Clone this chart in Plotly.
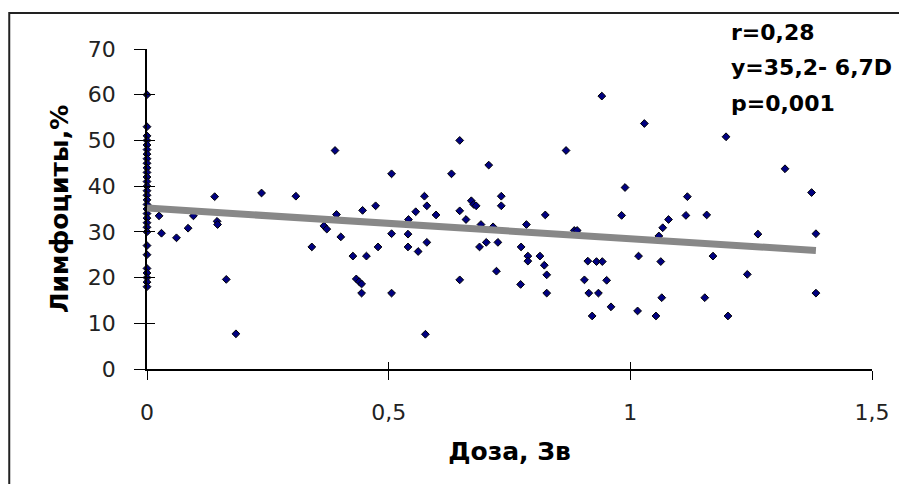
import plotly.graph_objects as go

# Dose (Sv) and lymphocytes (%)
dose = [0.0] * 31 + [
    0.025, 0.030, 0.061, 0.085, 0.096, 0.140, 0.145, 0.146, 0.164, 0.184,
    0.237, 0.308, 0.341, 0.366, 0.372, 0.389, 0.392, 0.401, 0.426, 0.433,
    0.439, 0.444, 0.444, 0.446, 0.454, 0.473, 0.478, 0.506, 0.506, 0.506,
    0.540, 0.540, 0.541, 0.556, 0.561, 0.574, 0.576, 0.579, 0.579, 0.598,
    0.630, 0.647, 0.647, 0.647, 0.660, 0.671, 0.676, 0.681, 0.688, 0.691,
    0.702, 0.707, 0.716, 0.723, 0.726, 0.733, 0.733, 0.773, 0.774, 0.785,
    0.788, 0.788, 0.813, 0.822, 0.824, 0.827, 0.827, 0.867, 0.884, 0.890,
    0.905, 0.912, 0.914, 0.921, 0.930, 0.934, 0.941, 0.942, 0.951, 0.960,
    0.982, 0.989, 1.015, 1.017, 1.029, 1.053, 1.059, 1.063, 1.065, 1.067,
    1.079, 1.115, 1.118, 1.154, 1.158, 1.171, 1.198, 1.202, 1.242, 1.264,
    1.320, 1.375, 1.384, 1.384,
]
lymph = [
    60, 53, 51, 50, 49, 48, 47, 46, 45, 44, 43, 42, 41, 40, 39, 38, 37, 36,
    35, 34, 33, 32, 31, 30, 27, 25, 22, 21, 20, 19, 18,
] + [
    33.5, 29.7, 28.7, 30.8, 33.5, 37.7, 32.3, 31.6, 19.6, 7.7,
    38.5, 37.8, 26.7, 31.3, 30.6, 47.8, 33.8, 28.9, 24.7, 19.7,
    19.1, 18.6, 16.6, 34.7, 24.7, 35.7, 26.7, 42.7, 29.6, 16.6,
    29.5, 26.7, 32.7, 34.4, 25.7, 37.8, 7.6, 35.7, 27.7, 33.7,
    42.7, 50.0, 34.6, 19.5, 32.7, 36.8, 36.0, 35.7, 26.7, 31.6,
    27.7, 44.6, 31.1, 21.4, 27.7, 37.8, 35.7, 18.5, 26.7, 31.6,
    24.7, 23.6, 24.7, 22.7, 33.7, 20.6, 16.6, 47.8, 30.3, 30.3,
    19.5, 23.6, 16.6, 11.6, 23.5, 16.6, 59.7, 23.5, 19.4, 13.6,
    33.6, 39.7, 12.7, 24.7, 53.7, 11.6, 29.1, 23.5, 15.6, 30.9,
    32.7, 33.6, 37.7, 15.6, 33.7, 24.7, 50.8, 11.6, 20.7, 29.5,
    43.8, 38.6, 29.6, 16.6,
]

# Regression y = 35.2 - 6.7 D (stated on the chart)
intercept = 35.2
slope = -6.7
trend_x = [0.0, max(dose)]
trend_y = [intercept + slope * v for v in trend_x]

x_tickvals = [0, 0.5, 1, 1.5]
x_ticktext = ["0", "0,5", "1", "1,5"]
y_tickvals = [0, 10, 20, 30, 40, 50, 60, 70]

stats_lines = ["r=0,28", "y=35,2- 6,7D", "p=0,001"]

tick_font = dict(family="DejaVu Sans", size=22, color="#222222")
title_font = dict(family="DejaVu Sans", size=25, color="black", weight="bold")

fig = go.Figure()
fig.add_trace(go.Scatter(
    x=dose, y=lymph, mode="markers",
    marker=dict(symbol="diamond", size=6, color="#000080",
                line=dict(color="black", width=1)),
    cliponaxis=False, showlegend=False, hoverinfo="x+y",
))
fig.add_trace(go.Scatter(
    x=trend_x, y=trend_y, mode="lines",
    line=dict(color="#888888", width=7),
    xaxis="x2", yaxis="y2", cliponaxis=False, showlegend=False,
))

axis_common = dict(showgrid=False, zeroline=False, tickcolor="black",
                   tickwidth=1.3, automargin=False)

fig.update_layout(
    width=899, height=484,
    margin=dict(l=147, r=27, t=49, b=115, autoexpand=False),
    paper_bgcolor="white", plot_bgcolor="white",
    xaxis=dict(range=[0, 1.5], tickvals=x_tickvals, ticktext=x_ticktext,
               ticks="outside", ticklen=9, showline=True, linecolor="black",
               linewidth=1.5, tickfont=tick_font, ticklabelstandoff=14,
               title=dict(text="Доза, Зв", font=title_font, standoff=18),
               **axis_common),
    yaxis=dict(range=[0, 70], tickvals=y_tickvals,
               ticks="outside", ticklen=11, showline=True, linecolor="black",
               linewidth=1.5, tickfont=tick_font, ticklabelstandoff=14,
               title=dict(text="Лимфоциты,%", font=title_font, standoff=12),
               **axis_common),
    xaxis2=dict(range=[0, 1.5], tickvals=x_tickvals, overlaying="x", anchor="y2",
                side="bottom", ticks="inside", ticklen=7, showticklabels=False,
                showline=False, **axis_common),
    yaxis2=dict(range=[0, 70], tickvals=y_tickvals, overlaying="y", anchor="x2",
                side="left", ticks="inside", ticklen=8, showticklabels=False,
                showline=False, **axis_common),
    shapes=[dict(type="rect", xref="paper", yref="paper",
                 x0=-0.19, x1=1.2, y0=-0.6, y1=1.1125,
                 line=dict(color="#222222", width=2), layer="below")],
)

for txt, yp in zip(stats_lines, [1.053, 0.941, 0.831]):
    fig.add_annotation(
        text=txt, xref="paper", yref="paper", x=0.803, y=yp,
        xanchor="left", yanchor="middle", showarrow=False,
        font=dict(family="DejaVu Sans", size=22, color="black", weight="bold"),
    )

fig.write_html(
    "out.html",
    config={"displayModeBar": False},
    post_script="document.body.style.margin='0';document.body.style.overflow='hidden';",
)
